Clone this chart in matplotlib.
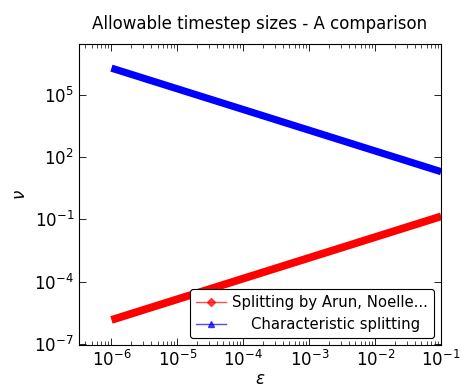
import numpy as np
import matplotlib
matplotlib.use("Agg")
import matplotlib.pyplot as plt
from matplotlib.lines import Line2D
from matplotlib.ticker import LogLocator, NullFormatter

# === data ===
eps = [1e-6, 1e-5, 1e-4, 1e-3, 1e-2, 1e-1]
nu_arun = [1.4e-6, 1.4e-5, 1.4e-4, 1.4e-3, 1.4e-2, 1.4e-1]
nu_char = [2.0e6, 2.0e5, 2.0e4, 2.0e3, 2.0e2, 2.0e1]
labels = ["Splitting by Arun, Noelle...", "    Characteristic splitting"]

plt.rcParams["font.family"] = ["DejaVu Sans"]
plt.rcParams["mathtext.fontset"] = "dejavusans"

fig = plt.figure(figsize=(4.61, 3.9), dpi=100)
ax = fig.add_axes([0.171, 0.115, 0.786, 0.772])

ax.plot(eps, nu_arun, color="red", lw=5.6, solid_capstyle="butt")
ax.plot(eps, nu_char, color="blue", lw=5.2, solid_capstyle="butt")

ax.set_xscale("log")
ax.set_yscale("log")
ax.set_xlim(3.2e-7, 1e-1)
ax.set_ylim(8.5e-8, 2.9e7)

ax.xaxis.set_major_locator(LogLocator(base=10, numticks=20))
ax.xaxis.set_minor_locator(LogLocator(base=10, subs=np.arange(2, 10), numticks=20))
ax.xaxis.set_minor_formatter(NullFormatter())
ax.set_yticks([1e-7, 1e-4, 1e-1, 1e2, 1e5])
ax.yaxis.set_minor_locator(matplotlib.ticker.NullLocator())

ax.tick_params(which="both", direction="in", top=True, right=True, labelsize=12)
ax.tick_params(which="major", length=5, width=0.6)
ax.tick_params(which="minor", length=3, width=0.5)
for s in ax.spines.values():
    s.set_linewidth(0.8)

ax.set_xlabel(r"$\varepsilon$", fontsize=12, labelpad=0)
ax.set_ylabel(r"$\nu$", fontsize=12, labelpad=4)
ax.set_title("Allowable timestep sizes - A comparison", fontsize=12, pad=11)

handles = [
    Line2D([], [], color="red", alpha=0.7, lw=1.0, marker="D", markersize=4,
           markerfacecolor="red", markeredgecolor="red"),
    Line2D([], [], color="blue", alpha=0.7, lw=1.0, marker="^", markersize=5,
           markerfacecolor="blue", markeredgecolor="blue"),
]
leg = ax.legend(handles, labels, loc="lower right", fontsize=10.7, frameon=True,
                fancybox=True, edgecolor="black", framealpha=1,
                handlelength=2.0, handletextpad=0.4, borderaxespad=0.5,
                labelspacing=0.45, borderpad=0.4)
leg.get_frame().set_linewidth(0.8)

fig.savefig("out.png", dpi=100)
